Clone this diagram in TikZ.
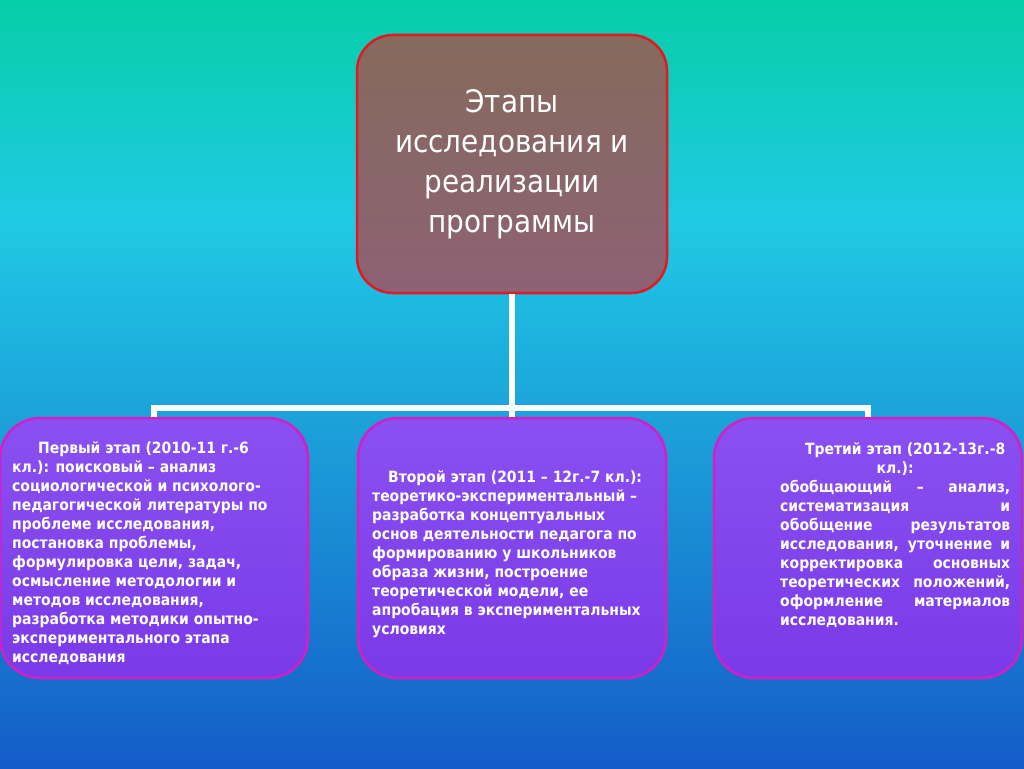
\documentclass[tikz,border=0pt]{standalone}
\usepackage{fontspec}
\setmainfont{DejaVu Sans Condensed}
\usetikzlibrary{positioning}

\definecolor{bgtop}{RGB}{6,206,168}
\definecolor{bgmid}{RGB}{32,202,228}
\definecolor{bgbottom}{RGB}{20,92,200}
\definecolor{titletop}{RGB}{134,106,92}
\definecolor{titlebottom}{RGB}{140,98,116}
\definecolor{titleborder}{RGB}{226,24,36}
\definecolor{stagetop}{RGB}{138,80,240}
\definecolor{stagebottom}{RGB}{122,58,232}
\definecolor{stageborder}{RGB}{212,30,200}

% bounding box of the path is mapped onto 25bp..75bp
\pgfdeclareverticalshading{bgshade}{100bp}{color(0bp)=(bgbottom); color(25bp)=(bgbottom); color(60.7bp)=(bgmid); color(75bp)=(bgtop); color(100bp)=(bgtop)}

\begin{document}
\begin{tikzpicture}[x=1pt,y=1pt,
  title box/.style={rectangle,rounded corners=36pt,draw=titleborder,line width=2.5pt,
    top color=titletop,bottom color=titlebottom,minimum width=310pt,minimum height=258pt,
    text=white,align=center,font={\fontsize{31}{40}\selectfont}},
  stage box/.style={rectangle,rounded corners=40pt,draw=stageborder,line width=2.5pt,
    top color=stagetop,bottom color=stagebottom,minimum width=308pt,minimum height=260pt},
  stage text/.style={anchor=north west,inner sep=0pt,text=white,align=left,
    font={\fontsize{15.5}{19}\selectfont\bfseries}},
  link/.style={draw=white,line width=6pt}]

  % background
  \shade[shading=bgshade] (0,0) rectangle (1024,-768);
  \useasboundingbox (0,0) rectangle (1024,-768);

  \node[title box] (title) at (512,-164) {Этапы\\исследования и\\реализации\\программы};

  \node[stage box] (first) at (154,-548) {};
  \node[stage box] (second) at (512,-548) {};
  \node[stage box] (third) at (868,-548) {};

  \coordinate (hub) at (512,-408);

  \draw[link] (title.south) -- (hub);
  \draw[link] (first.north) |- (hub) -| (third.north);
  \draw[link] (hub) -- (second.north);

  \node[stage text] (first text) at (12,-441) {\hspace*{26pt}Первый этап (2010-11 г.-6\\
    кл.): поисковый – анализ\\
    социологической и психолого-\\
    педагогической литературы по\\
    проблеме исследования,\\
    постановка проблемы,\\
    формулировка цели, задач,\\
    осмысление методологии и\\
    методов исследования,\\
    разработка методики опытно-\\
    экспериментального этапа\\
    исследования};

  \node[stage text] (second text) at (372,-470) {\hspace*{16pt}Второй этап (2011 – 12г.-7 кл.):\\
    теоретико-экспериментальный –\\
    разработка концептуальных\\
    основ деятельности педагога по\\
    формированию у школьников\\
    образа жизни, построение\\
    теоретической модели, ее\\
    апробация в экспериментальных\\
    условиях};

  \node[stage text] (third text) at (780,-442) {\hspace*{20pt}\makebox[210pt]{Третий этап (2012-13г.-8}\\
    \makebox[230pt]{кл.):}\\
    \makebox[230pt][s]{обобщающий – анализ,}\\
    \makebox[230pt][s]{систематизация и}\\
    \makebox[230pt][s]{обобщение результатов}\\
    \makebox[230pt][s]{исследования, уточнение и}\\
    \makebox[230pt][s]{корректировка основных}\\
    \makebox[230pt][s]{теоретических положений,}\\
    \makebox[230pt][s]{оформление материалов}\\
    исследования.};
\end{tikzpicture}
\end{document}
